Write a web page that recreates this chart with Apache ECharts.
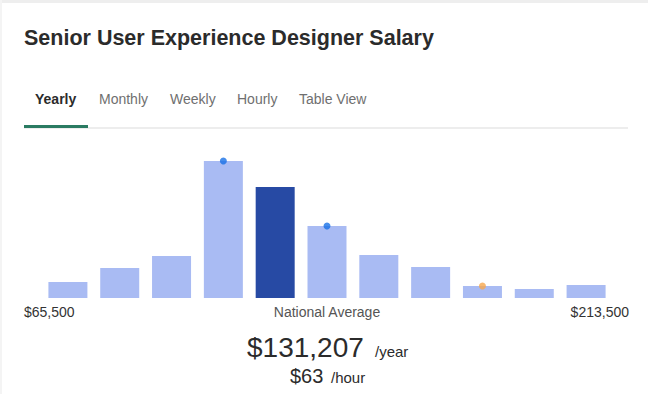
<!DOCTYPE html>
<html>
<head>
<meta charset="utf-8">
<script src="https://cdn.jsdelivr.net/npm/echarts@6/dist/echarts.min.js"></script>
<style>
html,body{margin:0;padding:0;background:#fff;}
#c{width:648px;height:394px;}
</style>
</head>
<body>
<div id="c"></div>
<script>
// Data
var categories = ["$65,500","$78,955","$92,409","$105,864","$119,318","$132,773","$146,227","$159,682","$173,136","$186,591","$200,045"];
var barValues = [16, 30, 42, 137, 111, 72, 43, 31, 12, 9, 13];
var highlightIndex = 4;
var blueDots = [[3, 137], [5, 72]];
var orangeDots = [[8, 12]];
var tabs = ["Yearly", "Monthly", "Weekly", "Hourly", "Table View"];
var tabX = [35, 99, 170, 237, 299];
var minLabel = "$65,500";
var maxLabel = "$213,500";
var avgYear = "$131,207";
var avgHour = "$63";

var chart = echarts.init(document.getElementById('c'), null, {renderer: 'svg'});
var FONT = '"Liberation Sans", Arial, Helvetica, sans-serif';

var graphics = [
  {type:'rect', shape:{x:0,y:0,width:648,height:3}, style:{fill:'#eeeeee'}, silent:true},
  {type:'rect', shape:{x:0,y:0,width:2,height:394}, style:{fill:'#f4f4f4'}, silent:true},
  {type:'text', x:24, y:38, style:{text:'Senior User Experience Designer Salary', font:'bold 21.5px ' + FONT, fill:'#2b2b2b', verticalAlign:'middle', align:'left'}},
  {type:'rect', shape:{x:24,y:127.5,width:604,height:1}, style:{fill:'#dcdcdc'}},
  {type:'rect', shape:{x:24,y:125,width:64,height:3}, style:{fill:'#2a7b62'}},
  {type:'text', x:24, y:312, style:{text:minLabel, font:'14px ' + FONT, fill:'#333', verticalAlign:'middle', align:'left'}},
  {type:'text', x:629, y:312, style:{text:maxLabel, font:'14px ' + FONT, fill:'#333', verticalAlign:'middle', align:'right'}},
  {type:'text', x:327, y:312, style:{text:'National Average', font:'14px ' + FONT, fill:'#555', verticalAlign:'middle', align:'center'}},
  {type:'text', x:247, y:347, style:{text:avgYear, font:'28px ' + FONT, fill:'#2b2b2b', verticalAlign:'middle', align:'left'}},
  {type:'text', x:375, y:351, style:{text:'/year', font:'15px ' + FONT, fill:'#2b2b2b', verticalAlign:'middle', align:'left'}},
  {type:'text', x:290, y:376, style:{text:avgHour, font:'20px ' + FONT, fill:'#2b2b2b', verticalAlign:'middle', align:'left'}},
  {type:'text', x:331, y:377, style:{text:'/hour', font:'15px ' + FONT, fill:'#2b2b2b', verticalAlign:'middle', align:'left'}}
];
tabs.forEach(function(t, i){
  graphics.push({type:'text', x:tabX[i], y:99, style:{text:t, font:(i===0?'bold ':'') + '14px ' + FONT, fill:(i===0?'#2b2b2b':'#6f6f6f'), verticalAlign:'middle', align:'left'}});
});

chart.setOption({
  animation:false,
  backgroundColor:'#fff',
  grid:{left:42, right:36, top:158, bottom:96},
  xAxis:{type:'category', data:categories, show:false, boundaryGap:true},
  yAxis:{type:'value', min:0, max:140, show:false},
  graphic:graphics,
  series:[
    {type:'bar', barWidth:39, data:barValues.map(function(v,i){
      return {value:v, itemStyle:{color: i===highlightIndex ? '#274aa4' : '#a9bbf3'}};
    }), itemStyle:{color:'#a9bbf3'}},
    {type:'scatter', data:blueDots, symbolSize:7, itemStyle:{color:'#1870e6'}, z:5},
    {type:'scatter', data:orangeDots, symbolSize:7, itemStyle:{color:'#f7a84c'}, z:5}
  ]
});
</script>
</body>
</html>
